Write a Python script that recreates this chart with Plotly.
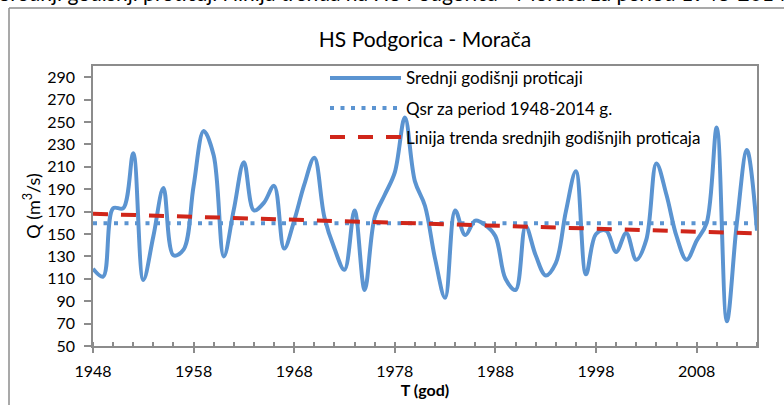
import plotly.graph_objects as go

# ---------------- data ----------------
years = list(range(1948, 2015))
discharge = [
    119, 112, 173, 173, 222, 109, 148, 191, 131, 136,   # 1948-1957
    193, 242, 220, 130, 172, 214, 171, 178, 193, 137,   # 1958-1967
    162, 194, 218, 165, 137, 118, 171, 100, 165, 185,   # 1968-1977
    205, 254, 197, 175, 128, 93, 171, 149, 162, 158,    # 1978-1987
    148, 110, 100, 157, 131, 113, 124, 170, 206, 114,   # 1988-1997
    150, 153, 134, 151, 127, 145, 213, 185, 148, 127,   # 1998-2007
    144, 160, 245, 72, 160, 225, 153,                   # 2008-2014
]
qsr_years = [1948, 2014]
qsr_values = [159.5, 159.5]
trend_years = [1948, 2014]
trend_values = [168, 150.5]

y_ticks = [50, 70, 90, 110, 130, 150, 170, 190, 210, 230, 250, 270, 290]
x_ticks = [1948, 1958, 1968, 1978, 1988, 1998, 2008]

names = [
    "Srednji godišnji proticaji",
    "Qsr za period 1948-2014 g.",
    "Linija trenda srednjih godišnjih proticaja",
]

# ---------------- style ----------------
W, H = 784, 405
ML, MR, MT, MB = 93, 27, 66, 59
PW, PH = W - ML - MR, H - MT - MB
BLUE = "#5b94d1"
RED = "#d0261a"
AXIS = "#8c8c8c"
FONT = "Lato"


def px_x(p):
    return (p - ML) / PW


def px_y(p):
    return (H - MB - p) / PH


fig = go.Figure()
fig.add_trace(go.Scatter(x=years, y=discharge, mode="lines", name=names[0],
                         line=dict(color=BLUE, width=4, shape="spline", smoothing=1.0),
                         showlegend=False))
fig.add_trace(go.Scatter(x=qsr_years, y=qsr_values, mode="lines", name=names[1],
                         line=dict(color=BLUE, width=4, dash="4px,6.5px"),
                         showlegend=False))
fig.add_trace(go.Scatter(x=trend_years, y=trend_values, mode="lines", name=names[2],
                         line=dict(color=RED, width=4, dash="15px,13px"),
                         showlegend=False))

shapes = []
annotations = []
# outer chart-area border (only left and top edges are visible in the crop)
shapes.append(dict(type="line", xref="paper", yref="paper",
                   x0=px_x(9), x1=px_x(9), y0=px_y(405), y1=px_y(8),
                   line=dict(color=AXIS, width=1.5), layer="above"))
shapes.append(dict(type="line", xref="paper", yref="paper",
                   x0=px_x(9), x1=px_x(784), y0=px_y(8), y1=px_y(8),
                   line=dict(color=AXIS, width=1.5), layer="above"))

# custom legend (long line samples like the original)
leg_y = [78, 108, 137]
dashes = ["solid", "4px,6.5px", "15px,13px"]
colors = [BLUE, BLUE, RED]
for i in range(3):
    shapes.append(dict(type="line", xref="paper", yref="paper",
                       x0=px_x(330), x1=px_x(401), y0=px_y(leg_y[i]), y1=px_y(leg_y[i]),
                       line=dict(color=colors[i], width=4, dash=dashes[i])))
    annotations.append(dict(xref="paper", yref="paper", x=px_x(404), y=px_y(leg_y[i]),
                            xanchor="left", yanchor="middle", text=names[i], showarrow=False,
                            font=dict(family=FONT, size=17, color="#000")))

# cropped caption above chart (only its lower edge is visible in the original)
annotations.append(dict(xref="paper", yref="paper", x=px_x(392), y=px_y(7),
                        xanchor="center", yanchor="bottom", showarrow=False,
                        text="Srednji godišnji proticaji i linija trenda na HS Podgorica - Morača za period 1948-2014",
                        font=dict(family=FONT, size=21, color="#000")))

fig.update_layout(
    width=W, height=H,
    margin=dict(l=ML, r=MR, t=MT, b=MB, autoexpand=False),
    paper_bgcolor="white", plot_bgcolor="white",
    font=dict(family=FONT, color="#000"),
    title=dict(text="HS Podgorica - Morača", x=px_x(425), xref="paper",
               y=1 - 40 / H, yref="container", xanchor="center", yanchor="middle",
               font=dict(family=FONT, size=21, color="#000")),
    shapes=shapes,
    annotations=annotations,
    showlegend=False,
)
fig.update_xaxes(
    range=[1948, 2014], tickvals=x_ticks, ticktext=[str(v) for v in x_ticks],
    ticks="outside", ticklen=5, tickwidth=1.5, tickcolor=AXIS,
    minor=dict(ticks="inside", dtick=2, tick0=1948, ticklen=4, tickwidth=1.5, tickcolor=AXIS),
    showline=True, linecolor=AXIS, linewidth=1.5, mirror=True,
    showgrid=False, zeroline=False, automargin=False,
    tickfont=dict(family=FONT, size=16, color="#000"), ticklabelstandoff=5,
    title=dict(text="<b>T (god)</b>", font=dict(family=FONT, size=16, color="#000"), standoff=4),
)
fig.update_yaxes(
    range=[50, 300], tickvals=y_ticks, ticktext=[str(v) for v in y_ticks],
    ticks="outside", ticklen=7, tickwidth=1.5, tickcolor=AXIS,
    showline=True, linecolor=AXIS, linewidth=1.5, mirror=True,
    showgrid=False, zeroline=False, automargin=False,
    tickfont=dict(family=FONT, size=16, color="#000"), ticklabelstandoff=6,
    title=dict(text="Q (m<sup>3</sup>/s)", font=dict(family=FONT, size=18, color="#000"), standoff=2),
)

fig.write_html("out.html", config={"displayModeBar": False},
               post_script="document.body.style.margin='0';document.body.style.padding='0';")
